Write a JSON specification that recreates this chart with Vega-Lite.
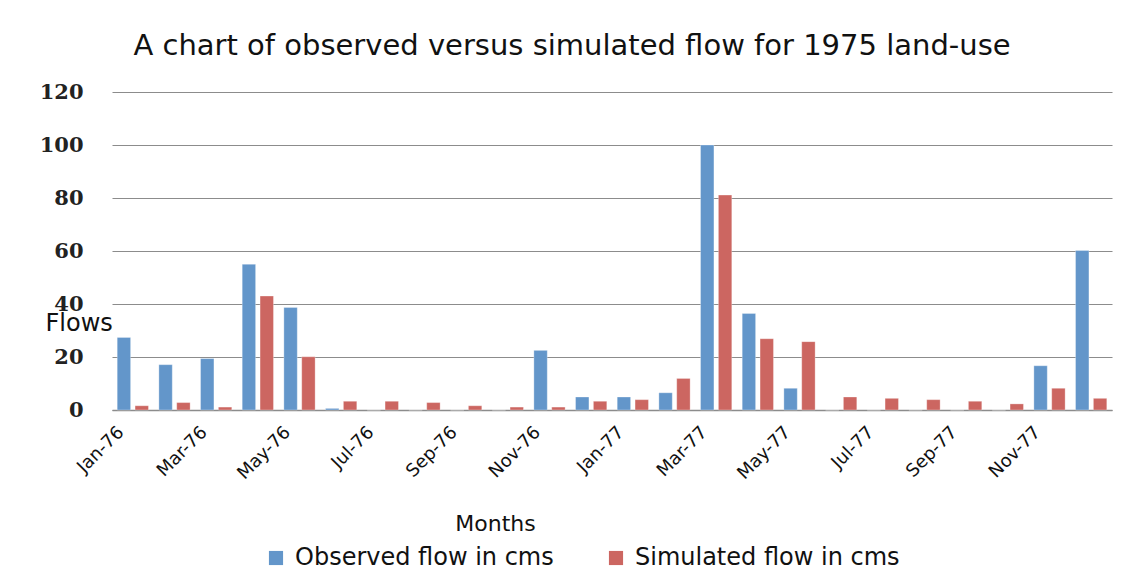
{
  "$schema": "https://vega.github.io/schema/vega-lite/v6.json",
  "autosize": "none",
  "width": 1000,
  "height": 318,
  "padding": {"left": 112, "top": 92, "right": 30, "bottom": 168},
  "background": "white",
  "title": {
    "text": "A chart of observed versus simulated flow for 1975 land-use",
    "font": "DejaVu Sans",
    "fontSize": 29,
    "fontWeight": "normal",
    "color": "#111111",
    "anchor": "middle",
    "dx": -40,
    "offset": 20
  },
  "data": {
    "values": [
      {"month": "Jan-76", "series": "Observed flow in cms", "flow": 27.4},
      {"month": "Jan-76", "series": "Simulated flow in cms", "flow": 1.6},
      {"month": "Feb-76", "series": "Observed flow in cms", "flow": 17.1},
      {"month": "Feb-76", "series": "Simulated flow in cms", "flow": 2.8},
      {"month": "Mar-76", "series": "Observed flow in cms", "flow": 19.4},
      {"month": "Mar-76", "series": "Simulated flow in cms", "flow": 1.1},
      {"month": "Apr-76", "series": "Observed flow in cms", "flow": 55.0},
      {"month": "Apr-76", "series": "Simulated flow in cms", "flow": 43.0},
      {"month": "May-76", "series": "Observed flow in cms", "flow": 38.7},
      {"month": "May-76", "series": "Simulated flow in cms", "flow": 20.1},
      {"month": "Jun-76", "series": "Observed flow in cms", "flow": 0.6},
      {"month": "Jun-76", "series": "Simulated flow in cms", "flow": 3.3},
      {"month": "Jul-76", "series": "Observed flow in cms", "flow": 0},
      {"month": "Jul-76", "series": "Simulated flow in cms", "flow": 3.3},
      {"month": "Aug-76", "series": "Observed flow in cms", "flow": 0},
      {"month": "Aug-76", "series": "Simulated flow in cms", "flow": 2.8},
      {"month": "Sep-76", "series": "Observed flow in cms", "flow": 0},
      {"month": "Sep-76", "series": "Simulated flow in cms", "flow": 1.6},
      {"month": "Oct-76", "series": "Observed flow in cms", "flow": 0},
      {"month": "Oct-76", "series": "Simulated flow in cms", "flow": 1.1},
      {"month": "Nov-76", "series": "Observed flow in cms", "flow": 22.5},
      {"month": "Nov-76", "series": "Simulated flow in cms", "flow": 1.1},
      {"month": "Dec-76", "series": "Observed flow in cms", "flow": 4.9},
      {"month": "Dec-76", "series": "Simulated flow in cms", "flow": 3.3},
      {"month": "Jan-77", "series": "Observed flow in cms", "flow": 4.9},
      {"month": "Jan-77", "series": "Simulated flow in cms", "flow": 3.9},
      {"month": "Feb-77", "series": "Observed flow in cms", "flow": 6.5},
      {"month": "Feb-77", "series": "Simulated flow in cms", "flow": 11.9},
      {"month": "Mar-77", "series": "Observed flow in cms", "flow": 100.0},
      {"month": "Mar-77", "series": "Simulated flow in cms", "flow": 81.1},
      {"month": "Apr-77", "series": "Observed flow in cms", "flow": 36.4},
      {"month": "Apr-77", "series": "Simulated flow in cms", "flow": 26.9},
      {"month": "May-77", "series": "Observed flow in cms", "flow": 8.2},
      {"month": "May-77", "series": "Simulated flow in cms", "flow": 25.8},
      {"month": "Jun-77", "series": "Observed flow in cms", "flow": 0},
      {"month": "Jun-77", "series": "Simulated flow in cms", "flow": 4.9},
      {"month": "Jul-77", "series": "Observed flow in cms", "flow": 0},
      {"month": "Jul-77", "series": "Simulated flow in cms", "flow": 4.4},
      {"month": "Aug-77", "series": "Observed flow in cms", "flow": 0},
      {"month": "Aug-77", "series": "Simulated flow in cms", "flow": 3.9},
      {"month": "Sep-77", "series": "Observed flow in cms", "flow": 0},
      {"month": "Sep-77", "series": "Simulated flow in cms", "flow": 3.3},
      {"month": "Oct-77", "series": "Observed flow in cms", "flow": 0},
      {"month": "Oct-77", "series": "Simulated flow in cms", "flow": 2.3},
      {"month": "Nov-77", "series": "Observed flow in cms", "flow": 16.7},
      {"month": "Nov-77", "series": "Simulated flow in cms", "flow": 8.2},
      {"month": "Dec-77", "series": "Observed flow in cms", "flow": 60.2},
      {"month": "Dec-77", "series": "Simulated flow in cms", "flow": 4.4}
    ]
  },
  "mark": {"type": "bar", "stroke": "white", "strokeWidth": 0.5, "strokeOpacity": 0.6},
  "encoding": {
    "x": {
      "field": "month",
      "type": "ordinal",
      "sort": null,
      "scale": {"paddingInner": 0.25, "paddingOuter": 0.125},
      "title": "Months",
      "axis": {
        "labelExpr": "indexof(['Jan','Mar','May','Jul','Sep','Nov'], slice(datum.value,0,3)) >= 0 ? datum.value : ''",
        "labelAngle": -45,
        "labelAlign": "right",
        "labelBaseline": "top",
        "labelPadding": 13,
        "labelOffset": -18,
        "labelFont": "DejaVu Sans",
        "labelFontSize": 18,
        "labelColor": "#111111",
        "ticks": false,
        "domainColor": "#8c8c8c",
        "domainWidth": 1.5,
        "titleFont": "DejaVu Sans",
        "titleFontSize": 22,
        "titleFontWeight": "normal",
        "titleColor": "#111111",
        "titleX": 383,
        "titleY": 113,
        "titleAnchor": null,
        "titleAlign": "center",
        "titleBaseline": "middle"
      }
    },
    "xOffset": {"field": "series", "type": "nominal", "scale": {"paddingInner": 0.25}},
    "y": {
      "field": "flow",
      "type": "quantitative",
      "scale": {"domain": [0, 120]},
      "title": "Flows",
      "axis": {
        "values": [0, 20, 40, 60, 80, 100, 120],
        "domain": false,
        "ticks": false,
        "labelPadding": 29,
        "labelFont": "DejaVu Serif",
        "labelFontWeight": "bold",
        "labelFontSize": 21,
        "labelColor": "#222222",
        "gridColor": "#8c8c8c",
        "gridWidth": 1.2,
        "titleFont": "DejaVu Sans",
        "titleFontSize": 24,
        "titleFontWeight": "normal",
        "titleColor": "#111111",
        "titleAngle": 0,
        "titleAlign": "left",
        "titleBaseline": "middle",
        "titleX": -67,
        "titleY": 231
      }
    },
    "color": {
      "field": "series",
      "type": "nominal",
      "scale": {"domain": ["Observed flow in cms", "Simulated flow in cms"], "range": ["#6396CA", "#CC6661"]},
      "legend": {
        "title": null,
        "orient": "none",
        "direction": "horizontal",
        "legendX": 152,
        "legendY": 454,
        "symbolType": "square",
        "symbolSize": 200,
        "symbolStrokeWidth": 0,
        "labelFont": "DejaVu Sans",
        "labelFontSize": 24,
        "labelColor": "#111111",
        "labelOffset": 7,
        "columnPadding": 50,
        "labelLimit": 400
      }
    }
  },
  "config": {
    "view": {"stroke": null}
  }
}
